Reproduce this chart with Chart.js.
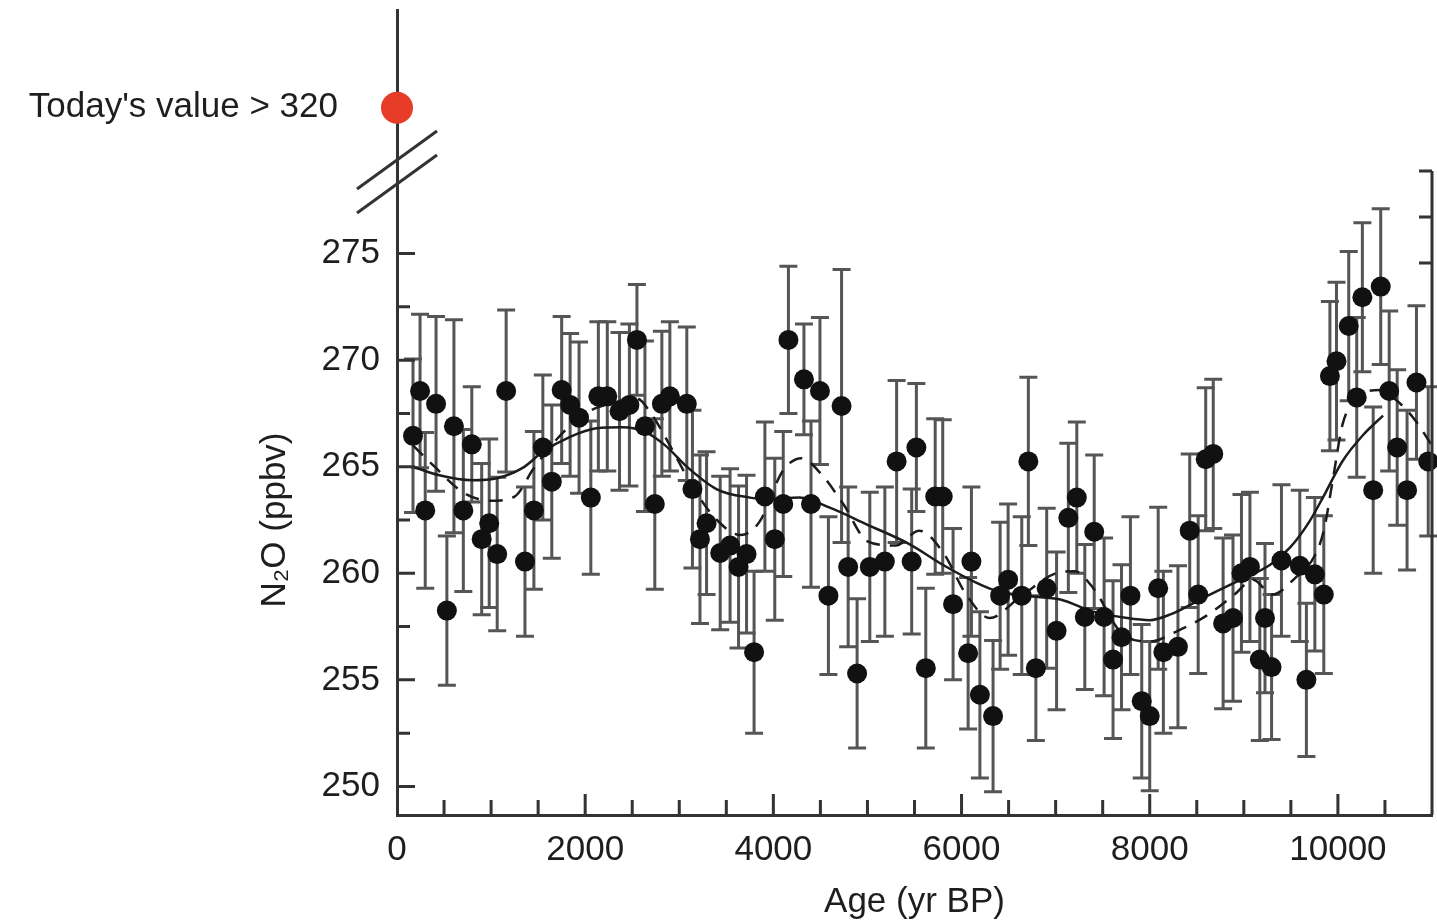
<!DOCTYPE html>
<html lang="en">
<head>
<meta charset="utf-8">
<title>N2O (ppbv) over the Holocene</title>
<script src="https://cdn.jsdelivr.net/npm/chart.js@4.4.1/dist/chart.umd.min.js"></script>
<style>
  html, body { margin: 0; padding: 0; background: #fff; }
  #chart-box { width: 1437px; height: 923px; }
</style>
</head>
<body>
<div id="chart-box"><canvas id="my-chart"></canvas></div>
<script>
'use strict';

// DATA

// ice core samples: age (yr BP), N2O (ppbv), half length of error bar
let sampleAges = [
  170, 245, 300, 415, 530, 605, 705, 795, 900, 980,
  1065, 1160, 1360, 1455, 1550, 1645, 1750, 1840, 1935, 2060,
  2140, 2235, 2365, 2470, 2550, 2635, 2740, 2815, 2900, 3080,
  3140, 3220, 3290, 3435, 3540, 3630, 3715, 3795, 3910, 4015,
  4105, 4160, 4325, 4400, 4495, 4585, 4725, 4795, 4890, 5025,
  5185, 5310, 5470, 5520, 5620, 5720, 5800, 5910, 6070, 6105,
  6195, 6335, 6410, 6495, 6640, 6710, 6790, 6905, 7010, 7135,
  7225, 7310, 7410, 7515, 7610, 7700, 7795, 7915, 8000, 8090,
  8145, 8300, 8425, 8515, 8595, 8675, 8780, 8885, 8975, 9065,
  9170, 9225, 9295, 9400, 9595, 9665, 9755, 9850, 9915, 9985,
  10115, 10200, 10260, 10375, 10455, 10545, 10630, 10735, 10835, 10960
];
let sampleN2O = [
  266.45, 268.55, 262.95, 267.95, 258.25, 266.9, 262.95, 266.05, 261.6, 262.35,
  260.9, 268.55, 260.55, 262.95, 265.9, 264.3, 268.6, 267.9, 267.3, 263.55,
  268.3, 268.3, 267.6, 267.9, 270.95, 266.9, 263.25, 267.95, 268.3, 267.95,
  263.95, 261.6, 262.35, 260.95, 261.3, 260.3, 260.9, 256.3, 263.6, 261.6,
  263.25, 270.95, 269.1, 263.25, 268.55, 258.95, 267.85, 260.3, 255.3, 260.3,
  260.55, 265.25, 260.55, 265.9, 255.55, 263.6, 263.6, 258.55, 256.25, 260.55,
  254.3, 253.3, 258.95, 259.7, 258.95, 265.25, 255.55, 259.3, 257.3, 262.6,
  263.55, 257.95, 261.95, 257.95, 255.95, 257.0, 258.95, 254.0, 253.3, 259.3,
  256.3, 256.55, 262.0, 259.0, 265.35, 265.6, 257.65, 257.9, 260.0, 260.3,
  255.95, 257.9, 255.6, 260.6, 260.35, 255.0, 259.95, 259.0, 269.25, 269.95,
  271.6, 268.25, 272.95, 263.9, 273.45, 268.55, 265.9, 263.9, 268.95, 265.25
];
let sampleErr = [
  3.6, 3.6, 3.65, 4.1, 3.5, 5.0, 3.8, 2.7, 3.55, 3.95,
  3.6, 3.8, 3.5, 3.7, 3.4, 3.6, 3.45, 3.35, 3.55, 3.6,
  3.5, 3.5, 3.7, 3.8, 2.6, 4.0, 4.0, 3.4, 3.5, 3.6,
  3.7, 3.95, 3.35, 3.6, 3.6, 3.8, 3.7, 3.8, 3.5, 3.8,
  3.4, 3.45, 2.6, 3.9, 3.45, 3.7, 6.4, 3.75, 3.5, 3.5,
  3.5, 3.8, 3.4, 3.0, 3.75, 3.65, 3.6, 3.55, 3.55, 3.5,
  3.9, 3.55, 3.45, 3.55, 3.7, 3.95, 3.4, 3.75, 3.7, 3.5,
  3.55, 3.4, 3.6, 3.7, 3.7, 3.4, 3.7, 3.6, 3.5, 3.8,
  3.8, 3.8, 3.6, 3.7, 3.35, 3.5, 4.0, 3.9, 3.7, 3.5,
  3.8, 3.5, 3.4, 3.55, 3.55, 3.6, 3.6, 3.7, 3.5, 3.7,
  3.5, 3.75, 3.5, 3.9, 3.65, 3.75, 3.65, 3.75, 3.6, 3.5
];

// smooth fit (solid line)
let fitAges = [170, 450, 800, 1050, 1340, 1550, 1840, 2120, 2400, 2650, 2850, 3080, 3400, 3750, 3930, 4280, 4600, 4990, 5450, 5800, 6160, 6380, 6700, 7050, 7400, 7760, 8000, 8220, 8570, 8920, 9280, 9490, 9700, 9840, 10050, 10270, 10480];
let fitN2O = [265.0, 264.6, 264.37, 264.45, 264.96, 265.7, 266.4, 266.8, 266.85, 266.6, 266.0, 265.0, 263.94, 263.55, 263.47, 263.55, 263.08, 262.3, 261.36, 260.4, 259.55, 259.16, 258.93, 258.77, 258.2, 257.9, 257.8, 258.07, 258.85, 259.6, 260.4, 261.2, 262.45, 263.55, 265.27, 266.5, 267.4];

// running mean (dashed line)
let meanAges = [170, 400, 700, 1000, 1250, 1450, 1700, 2000, 2300, 2550, 2700, 2900, 3150, 3400, 3650, 3850, 4100, 4300, 4500, 4750, 5000, 5300, 5550, 5800, 6050, 6300, 6600, 7000, 7200, 7400, 7700, 8000, 8300, 8600, 8900, 9100, 9300, 9550, 9750, 9850, 9950, 10050, 10200, 10450, 10600, 10800, 11000];
let meanN2O = [266.0, 265.0, 263.8, 263.4, 263.6, 264.9, 266.3, 267.5, 268.0, 268.2, 267.5, 266.0, 264.0, 262.5, 261.8, 262.4, 264.8, 265.4, 264.7, 263.2, 261.5, 261.3, 262.0, 261.0, 259.0, 257.9, 258.8, 260.0, 260.1, 259.3, 257.2, 256.8, 257.3, 258.0, 259.0, 259.7, 259.0, 259.8, 260.8, 262.0, 264.5, 267.0, 268.2, 268.6, 268.2, 267.3, 266.0];

// today's value, shown above the axis break
let todayAge = 0;
let todayValue = 320;

// TICKS

let xTickLabels = [0, 2000, 4000, 6000, 8000, 10000];
let yTickLabels = [250, 255, 260, 265, 270, 275];
let rightTicks = [12, 13, 14];

// BUILD POINT LISTS

function toPoints(xs, ys) {
  let pts = [];
  for (let i = 0; i < xs.length; i++) {
    pts.push({ x: xs[i], y: ys[i] });
  }
  return pts;
}

let samplePoints = toPoints(sampleAges, sampleN2O);
let fitPoints = toPoints(fitAges, fitN2O);
let meanPoints = toPoints(meanAges, meanN2O);

// STYLE

let axisColor = '#333';
let textColor = '#1e1e1e';
let labelFont = { family: '"Liberation Sans", Arial, sans-serif', size: 35 };

Chart.defaults.font.family = labelFont.family;
Chart.defaults.color = textColor;

// keep label overhang out of the layout so the plot area stays put
function noPadding(s) {
  s.paddingTop = 0;
  s.paddingBottom = 0;
  s.paddingLeft = 0;
  s.paddingRight = 0;
}

// PLUGIN: error bars, inward ticks, right axis, axis break

let decorations = {
  id: 'decorations',
  beforeDatasetsDraw(chart) {
    let { ctx, scales } = chart;
    let xs = scales.x;
    let ys = scales.y;
    ctx.save();
    ctx.strokeStyle = '#555';
    ctx.lineWidth = 3;
    for (let i = 0; i < sampleAges.length; i++) {
      let px = xs.getPixelForValue(sampleAges[i]);
      let top = ys.getPixelForValue(sampleN2O[i] + sampleErr[i]);
      let bot = ys.getPixelForValue(sampleN2O[i] - sampleErr[i]);
      ctx.beginPath();
      ctx.moveTo(px, top);
      ctx.lineTo(px, bot);
      ctx.moveTo(px - 9, top);
      ctx.lineTo(px + 9, top);
      ctx.moveTo(px - 9, bot);
      ctx.lineTo(px + 9, bot);
      ctx.stroke();
    }
    ctx.restore();
  },
  afterDraw(chart) {
    let { ctx, chartArea, scales } = chart;
    let xs = scales.x;
    let ys = scales.y;
    let yTop = scales.yTop;
    let y2 = scales.y2;
    ctx.save();
    ctx.strokeStyle = axisColor;
    ctx.lineWidth = 3;
    ctx.beginPath();

    // x ticks every 500 years, pointing up
    for (let v = 500; v < xs.max; v += 500) {
      let px = xs.getPixelForValue(v);
      let len = v % 2000 === 0 ? 21 : 15;
      ctx.moveTo(px, chartArea.bottom);
      ctx.lineTo(px, chartArea.bottom - len);
    }

    // y ticks every 2.5 ppbv, pointing right
    for (let v = 250; v <= 275; v += 2.5) {
      let py = ys.getPixelForValue(v);
      let len = v % 5 === 0 ? 18 : 13;
      ctx.moveTo(chartArea.left, py);
      ctx.lineTo(chartArea.left + len, py);
    }

    // right axis
    let rTop = y2.getPixelForValue(Math.max(...rightTicks));
    ctx.moveTo(chartArea.right, rTop);
    ctx.lineTo(chartArea.right, chartArea.bottom);
    for (let v of rightTicks) {
      let py = y2.getPixelForValue(v);
      ctx.moveTo(chartArea.right, py);
      ctx.lineTo(chartArea.right - 13, py);
    }

    // axis break marks
    let bx = chartArea.left;
    for (let off of [65, 41]) {
      let by = yTop.bottom - off;
      ctx.moveTo(bx - 40, by + 29);
      ctx.lineTo(bx + 40, by - 29);
    }
    ctx.stroke();
    ctx.restore();
  }
};

// CHART

let ctx = document.getElementById('my-chart').getContext('2d');

let chartObj = {
  type: 'scatter',
  data: {
    datasets: [
      {
        label: 'N2O samples',
        data: samplePoints,
        yAxisID: 'y',
        pointRadius: 10,
        pointBorderWidth: 0,
        backgroundColor: '#111',
        borderColor: '#111',
        clip: 12
      },
      {
        label: "Today's value",
        data: [{ x: todayAge, y: todayValue }],
        yAxisID: 'yTop',
        pointRadius: 16,
        pointBorderWidth: 0,
        backgroundColor: '#e63c28',
        borderColor: '#e63c28',
        clip: false
      },
      {
        type: 'line',
        label: 'Spline fit',
        data: fitPoints,
        yAxisID: 'y',
        borderColor: '#1c1c1c',
        borderWidth: 2.5,
        pointRadius: 0,
        cubicInterpolationMode: 'monotone',
        fill: false
      },
      {
        type: 'line',
        label: 'Running mean',
        data: meanPoints,
        yAxisID: 'y',
        borderColor: '#1c1c1c',
        borderWidth: 2.5,
        borderDash: [14, 10],
        pointRadius: 0,
        cubicInterpolationMode: 'monotone',
        fill: false
      }
    ]
  },
  options: {
    responsive: true,
    maintainAspectRatio: false,
    animation: false,
    layout: { autoPadding: false, padding: { top: 10, right: 5, bottom: 0, left: 0 } },
    plugins: {
      legend: { display: false },
      tooltip: { enabled: false }
    },
    scales: {
      x: {
        type: 'linear',
        min: 0,
        max: 11000,
        afterBuildTicks: s => { s.ticks = xTickLabels.map(v => ({ value: v })); },
        afterFit: s => { s.height = 108; noPadding(s); },
        grid: { display: false, drawTicks: false },
        border: { display: true, color: axisColor, width: 3 },
        ticks: { font: labelFont, color: textColor, padding: 14, maxRotation: 0, autoSkip: false, callback: v => String(v) },
        title: { display: true, text: 'Age (yr BP)', font: labelFont, color: textColor, padding: 0 }
      },
      yTop: {
        type: 'linear',
        position: 'left',
        stack: 'n2o',
        stackWeight: 215,
        weight: 1,
        min: 302,
        max: 335,
        afterBuildTicks: s => { s.ticks = [{ value: todayValue }]; },
        afterFit: s => { s.width = 397; noPadding(s); },
        grid: { display: false, drawTicks: false },
        border: { display: true, color: axisColor, width: 3 },
        ticks: { font: labelFont, color: textColor, padding: 59, callback: v => "Today's value > " + v }
      },
      y: {
        type: 'linear',
        position: 'left',
        stack: 'n2o',
        stackWeight: 590,
        weight: 0,
        min: 248.66,
        max: 276.34,
        afterBuildTicks: s => { s.ticks = yTickLabels.map(v => ({ value: v })); },
        afterFit: s => { s.width = 397; noPadding(s); },
        grid: { display: false, drawTicks: false },
        border: { display: true, color: axisColor, width: 3 },
        ticks: { font: labelFont, color: textColor, padding: 17, callback: v => String(v) },
        title: { display: true, text: 'N₂O (ppbv)', font: labelFont, color: textColor, padding: { top: 254, bottom: 0 } }
      },
      y2: {
        type: 'linear',
        position: 'right',
        display: false,
        min: 0,
        max: 17.5,
        afterFit: s => { noPadding(s); }
      }
    }
  },
  plugins: [decorations]
};

new Chart(ctx, chartObj);
</script>
</body>
</html>
